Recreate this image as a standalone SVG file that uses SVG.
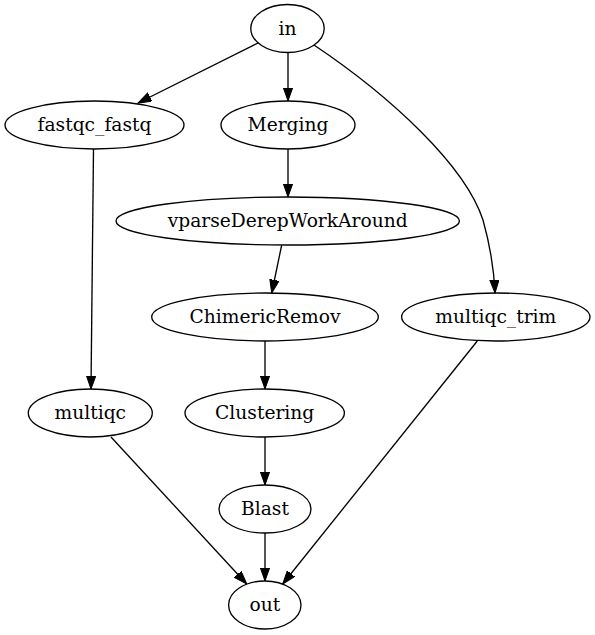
<svg xmlns="http://www.w3.org/2000/svg" width="595" height="635" viewBox="0 0 595 635">
<style>
.node ellipse{fill:none;stroke:#000;stroke-width:1.33}
.node text{font-family:'DejaVu Serif',serif;font-size:18.67px;text-anchor:middle;fill:#000}
.edges path{fill:none;stroke:#000;stroke-width:1.33}
</style>
<defs>
<marker id="arr" markerUnits="userSpaceOnUse" markerWidth="14" markerHeight="10" refX="13.3" refY="4.7" orient="auto">
<path d="M0,0 L13.3,4.7 L0,9.4 z" fill="#000" stroke="#000" stroke-width="1"/>
</marker>
</defs>
<rect width="595" height="635" fill="#fff"/>
<g class="edges">
<path d="M258,43 L138,103" marker-end="url(#arr)"/>
<path d="M288,52.5 L288,101" marker-end="url(#arr)"/>
<path d="M314,45 C390,96 465,165 483,220 C490,245 494,270 495,293" marker-end="url(#arr)"/>
<path d="M93.5,149 L91,389" marker-end="url(#arr)"/>
<path d="M288,149 L288,197" marker-end="url(#arr)"/>
<path d="M281.7,245 L271.7,293" marker-end="url(#arr)"/>
<path d="M265,341 L265,389" marker-end="url(#arr)"/>
<path d="M111,437 L246.7,584" marker-end="url(#arr)"/>
<path d="M265,437 L265,485" marker-end="url(#arr)"/>
<path d="M265,533 L265,581" marker-end="url(#arr)"/>
<path d="M477.3,341 L282.7,584" marker-end="url(#arr)"/>
</g>
<g id="in" class="node"><ellipse cx="287.5" cy="28.5" rx="36.7" ry="24"/><text x="287.5" y="34.5">in</text></g>
<g id="fastqc_fastq" class="node"><ellipse cx="94.5" cy="125" rx="89.5" ry="24"/><text x="94.5" y="131">fastqc_fastq</text></g>
<g id="Merging" class="node"><ellipse cx="288" cy="125" rx="67" ry="24"/><text x="288" y="131">Merging</text></g>
<g id="vparseDerepWorkAround" class="node"><ellipse cx="287.7" cy="221" rx="171.7" ry="24"/><text x="287.7" y="227">vparseDerepWorkAround</text></g>
<g id="ChimericRemov" class="node"><ellipse cx="265" cy="317" rx="113.3" ry="24"/><text x="265" y="323">ChimericRemov</text></g>
<g id="multiqc_trim" class="node"><ellipse cx="495.8" cy="317" rx="94.2" ry="24"/><text x="495.8" y="323">multiqc_trim</text></g>
<g id="multiqc" class="node"><ellipse cx="90.3" cy="413" rx="62" ry="24"/><text x="90.3" y="419">multiqc</text></g>
<g id="Clustering" class="node"><ellipse cx="264.7" cy="413" rx="79.7" ry="24"/><text x="264.7" y="419">Clustering</text></g>
<g id="Blast" class="node"><ellipse cx="265" cy="509" rx="46" ry="24"/><text x="265" y="515">Blast</text></g>
<g id="out" class="node"><ellipse cx="264.8" cy="605" rx="36.2" ry="24"/><text x="264.8" y="611">out</text></g>
</svg>
